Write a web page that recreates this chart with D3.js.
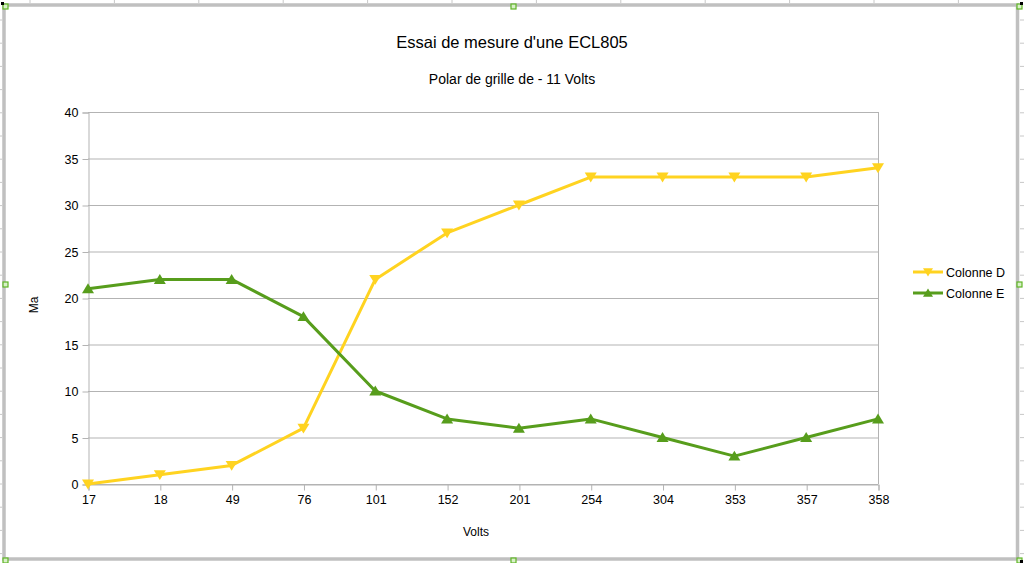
<!DOCTYPE html>
<html>
<head>
<meta charset="utf-8">
<script src="https://cdn.jsdelivr.net/npm/d3@7"></script>
<style>
  html, body { margin: 0; padding: 0; background: #ffffff; }
  svg { display: block; font-family: "Liberation Sans", Arial, sans-serif; }
</style>
</head>
<body>
<svg id="chart" width="1024" height="563"></svg>
<script>
// ---- Data ----
const categories = ["17", "18", "49", "76", "101", "152", "201", "254", "304", "353", "357", "358"];
const colonneD = [0, 1, 2, 6, 22, 27, 30, 33, 33, 33, 33, 34];
const colonneE = [21, 22, 22, 18, 10, 7, 6, 7, 5, 3, 5, 7];
const yTicks = [0, 5, 10, 15, 20, 25, 30, 35, 40];
const seriesNames = ["Colonne D", "Colonne E"];

const title = "Essai de mesure d'une ECL805";
const subtitle = "Polar de grille de - 11 Volts";
const xTitle = "Volts";
const yTitle = "Ma";

const svg = d3.select("#chart");
const W = 1024, H = 563;

// Spreadsheet background lines outside the chart frame
const bg = svg.append("g");
d3.range(30, W, 84.4).forEach(x => {
  bg.append("line").attr("x1", x).attr("x2", x).attr("y1", 0).attr("y2", 3)
    .attr("stroke", "#c8c8c8").attr("stroke-width", 1);
});
d3.range(20, H, 23.2).forEach(y => {
  bg.append("line").attr("x1", 0).attr("x2", 2).attr("y1", y).attr("y2", y)
    .attr("stroke", "#c8c8c8").attr("stroke-width", 1);
  bg.append("line").attr("x1", 1020).attr("x2", W).attr("y1", y).attr("y2", y)
    .attr("stroke", "#c8c8c8").attr("stroke-width", 1);
});

// Chart frame
svg.append("rect").attr("x", 4).attr("y", 5).attr("width", 1013.5).attr("height", 554)
  .attr("fill", "#ffffff").attr("stroke", "#c0c0c0").attr("stroke-width", 3.5);

// Scales
const x = d3.scalePoint().domain(categories).range([88, 878]);
const y = d3.scaleLinear().domain([0, 40]).range([484, 112]);

// Grid
const grid = svg.append("g");
grid.selectAll("line.h").data(yTicks).join("line")
  .attr("x1", 88).attr("x2", 878)
  .attr("y1", d => y(d) + 0.5).attr("y2", d => y(d) + 0.5)
  .attr("stroke", "#b3b3b3").attr("stroke-width", 1);
grid.append("line").attr("x1", 878.5).attr("x2", 878.5).attr("y1", y(40)).attr("y2", y(0))
  .attr("stroke", "#b3b3b3");

// Y axis
const yAxis = svg.append("g").attr("transform", "translate(88.5,0.5)")
  .call(d3.axisLeft(y).tickValues(yTicks).tickSize(6).tickPadding(4));
yAxis.select(".domain").attr("stroke", "#b3b3b3");
yAxis.selectAll(".tick line").attr("stroke", "#b3b3b3");
yAxis.selectAll(".tick text").attr("font-size", 12.5).attr("fill", "#000")
  .attr("font-family", "Liberation Sans, Arial, sans-serif");

// X axis
const xAxis = svg.append("g").attr("transform", "translate(0.5,484.5)")
  .call(d3.axisBottom(x).tickSize(6).tickPadding(5));
xAxis.select(".domain").attr("stroke", "#b3b3b3");
xAxis.selectAll(".tick line").attr("stroke", "#b3b3b3");
xAxis.selectAll(".tick text").attr("font-size", 12.5).attr("fill", "#000")
  .attr("font-family", "Liberation Sans, Arial, sans-serif");

// Series
const series = [
  { name: seriesNames[0], values: colonneD, color: "#ffd320", symbol: "down" },
  { name: seriesNames[1], values: colonneE, color: "#579d1c", symbol: "up" }
];

function tri(dir, s) {
  return dir === "down"
    ? `M${-s},${-s * 0.75}L${s},${-s * 0.75}L0,${s * 0.9}Z`
    : `M${-s},${s * 0.75}L${s},${s * 0.75}L0,${-s * 0.9}Z`;
}

const line = d3.line().x((d, i) => x(categories[i])).y(d => y(d));

series.forEach(s => {
  svg.append("path").datum(s.values).attr("d", line)
    .attr("fill", "none").attr("stroke", s.color).attr("stroke-width", 3)
    .attr("stroke-linejoin", "round");
  svg.append("g").selectAll("path").data(s.values).join("path")
    .attr("transform", (d, i) => `translate(${x(categories[i])},${y(d)})`)
    .attr("d", tri(s.symbol, 6)).attr("fill", s.color);
});

// Titles
svg.append("text").attr("x", 512).attr("y", 48).attr("text-anchor", "middle")
  .attr("font-size", 16.5).attr("fill", "#000").text(title);
svg.append("text").attr("x", 512).attr("y", 84).attr("text-anchor", "middle")
  .attr("font-size", 14).attr("fill", "#000").text(subtitle);
svg.append("text").attr("x", 476).attr("y", 536).attr("text-anchor", "middle")
  .attr("font-size", 12).attr("fill", "#000").text(xTitle);
svg.append("text").attr("transform", "translate(38,305) rotate(-90)")
  .attr("text-anchor", "middle").attr("font-size", 12).attr("fill", "#000").text(yTitle);

// Legend
const legend = svg.append("g");
series.forEach((s, i) => {
  const ly = 272 + i * 21;
  legend.append("line").attr("x1", 913).attr("x2", 943).attr("y1", ly).attr("y2", ly)
    .attr("stroke", s.color).attr("stroke-width", 3);
  legend.append("path").attr("transform", `translate(928,${ly})`)
    .attr("d", tri(s.symbol, 5)).attr("fill", s.color);
  legend.append("text").attr("x", 946).attr("y", ly + 4.5)
    .attr("font-size", 12.5).attr("fill", "#000").text(s.name);
});

// Selection handles
const handles = [[4, 5], [512, 5], [1018, 5], [4, 283], [1018, 283], [4, 559], [512, 559], [1018, 559]];
handles.forEach(([hx, hy]) => {
  svg.append("rect").attr("x", hx - 1).attr("y", hy - 1).attr("width", 5).attr("height", 5)
    .attr("fill", "#d8f0c8").attr("stroke", "#5fb526").attr("stroke-width", 1.2);
});
[[1, 2], [1020, 2], [1020, 560]].forEach(([hx, hy]) => {
  svg.append("rect").attr("x", hx).attr("y", hy).attr("width", 3).attr("height", 3).attr("fill", "#000");
});
</script>
</body>
</html>
